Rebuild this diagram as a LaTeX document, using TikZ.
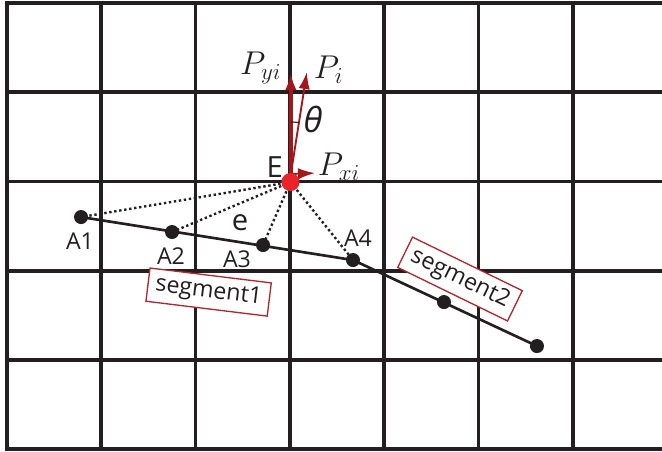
\documentclass[tikz,border=0pt]{standalone}
\usepackage{fontspec}
\usepackage{tikz}
\usetikzlibrary{arrows.meta, positioning, calc}
\newfontfamily\labelfont{Open Sans}
\definecolor{gridblack}{HTML}{231F20}
\definecolor{vecred}{HTML}{A3171C}
\definecolor{dotred}{HTML}{E8232A}
\definecolor{boxred}{HTML}{B0272D}
\tikzset{
  cell/.style={line width=2.8pt, draw=gridblack, line cap=rect},
  seg/.style={line width=2pt, draw=gridblack},
  ray/.style={dotted, line width=1.8pt, draw=gridblack},
  vec/.style={draw=vecred, -{Latex[length=0.45cm,width=0.3cm]}},
  seglabel/.style={draw=boxred, line width=1pt, fill=white, inner xsep=0.2cm, inner ysep=0.15cm, font=\labelfont\fontsize{17.5}{20}\selectfont, text=gridblack},
  ptlabel/.style={font=\labelfont\fontsize{17.5}{20}\selectfont, text=gridblack},
  biglabel/.style={font=\labelfont\fontsize{22}{26}\selectfont, text=gridblack},
  veclabel/.style={font=\fontsize{24}{28}\selectfont, text=gridblack},
}

\begin{document}
\begin{tikzpicture}[x=2.5cm, y=2.365cm]
  \useasboundingbox (-0.0742,-0.0224) rectangle (6.946,5.034);
  \foreach \i in {0,...,6} \draw[cell] (\i,0) -- (\i,5);
  \foreach \j in {0,...,5} \draw[cell] (0,\j) -- (6.946,\j);

  \coordinate (E)  at (3.006,2.993);
  \coordinate (O)  at (3.01,3.083);
  \coordinate (A1) at (0.785,2.601);
  \coordinate (A2) at (1.750,2.433);
  \coordinate (A3) at (2.715,2.287);
  \coordinate (A4) at (3.669,2.119);
  \coordinate (B1) at (4.634,1.648);
  \coordinate (B2) at (5.620,1.155);
  \coordinate (Pyi) at (3.01,4.215);
  \coordinate (Pi)  at (3.18,4.226);
  \coordinate (Pxi) at (3.266,3.094);

  \foreach \a in {A1,A2,A3,A4} \draw[ray] (E) -- (\a);
  \draw[seg] (A1) -- (A4);
  \draw[seg] (A4) -- (B2);
  \foreach \a in {A1,A2,A3,A4,B1,B2} \fill[gridblack] (\a) circle (0.186cm);

  \draw[vec, line width=2.6pt] (O) -- (Pyi);
  \draw[vec, line width=1.4pt] (O) -- (Pi);
  \draw[vec, line width=1.4pt] (O) -- (Pxi);
  \draw[gridblack, line width=0.9pt] ($(O)+(90:1.38cm)$) arc[start angle=90, end angle=81, radius=1.38cm];
  \fill[dotred] (E) circle (0.24cm);

  \node[veclabel] (lPyi) at (2.69,4.27) {$P_{yi}$};
  \node[veclabel] (lPi)  at (3.41,4.25) {$P_i$};
  \node[veclabel] (lPxi) at (3.52,3.17) {$P_{xi}$};
  \node[biglabel, font=\labelfont\fontsize{26}{30}\selectfont] (lth) at (3.245,3.69) {\itshape θ};
  \node[biglabel] (lE)   at (2.84,3.16) {E};
  \node[ptlabel]  (lA1)  at (0.774,2.332) {A1};
  \node[ptlabel]  (lA2)  at (1.739,2.164) {A2};
  \node[ptlabel]  (lA3)  at (2.439,2.130) {A3};
  \node[ptlabel]  (lA4)  at (3.722,2.365) {A4};
  \node[biglabel] (le)   at (2.471,2.535) {e};

  \node[seglabel, rotate=-7]  (seg1) at (2.138,1.760) {segment1};
  \node[seglabel, rotate=-26] (seg2) at (4.804,1.906) {segment2};
\end{tikzpicture}
\end{document}
